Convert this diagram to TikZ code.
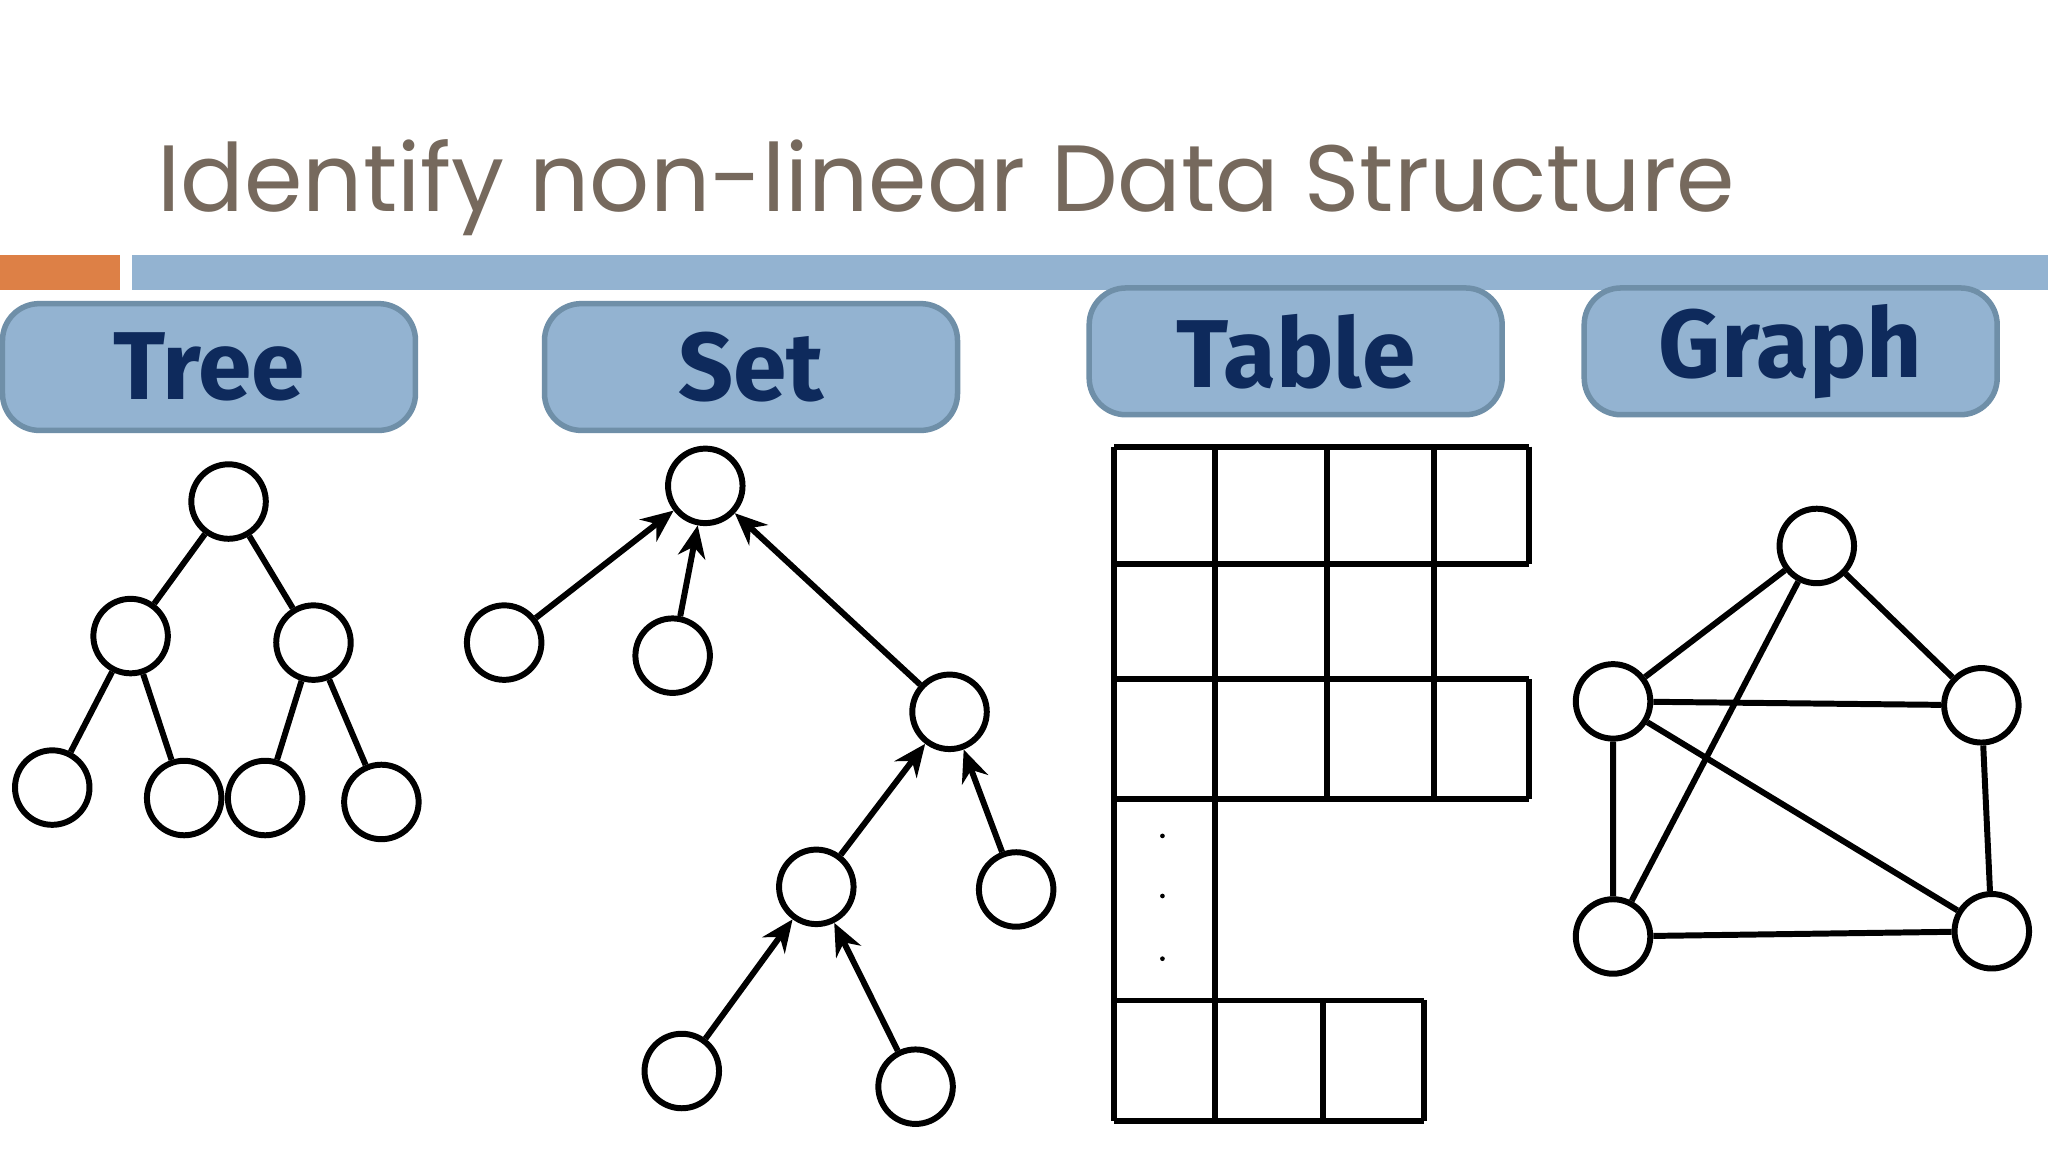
\documentclass[tikz,border=0pt]{standalone}
\usepackage{fontspec}
\setmainfont{Poppins}
\newfontfamily\boxfont{Fira Sans}
\usetikzlibrary{arrows.meta}
\definecolor{titlec}{HTML}{76695D}
\definecolor{barblue}{HTML}{93B3D1}
\definecolor{barorange}{HTML}{DD8046}
\definecolor{navy}{HTML}{0E2A5C}
\definecolor{boxborder}{HTML}{6F8FA8}
\tikzset{
 hdr/.style={draw=boxborder,line width=1.2pt,fill=barblue,rounded corners=8pt,minimum width=3.16cm,minimum height=0.97cm,font=\boxfont\bfseries\fontsize{21}{24}\selectfont,text=navy},
 nd/.style={circle,draw,line width=1.3pt,minimum size=0.57cm,inner sep=0pt},
 ln/.style={line width=1.3pt},
 ar/.style={line width=1.3pt,-{Stealth[length=7pt,width=6pt]}}
}
\begin{document}
\begin{tikzpicture}[x=0.01cm,y=-0.01cm]
\useasboundingbox (0,0) rectangle (1568,882);
\fill[white] (0,0) rectangle (1568,882);
\node[anchor=base west,inner sep=0pt,text=titlec,font=\fontsize{20.5}{24}\selectfont] (title) at (120,162) {Identify non-linear Data Structure};
\fill[barorange] (0,195) rectangle (92,222);
\fill[barblue] (101,195) rectangle (1568,222);
\node[hdr] (h1) at (160,281) {Tree};
\node[hdr] (h2) at (575,281) {Set};
\node[hdr] (h3) at (992,269) {Table};
\node[hdr] (h4) at (1371,269) {Graph};
% Tree
\node[nd] (t0) at (175,384) {};
\node[nd] (t1) at (100,487) {};
\node[nd] (t2) at (240,492) {};
\node[nd] (t3) at (40,603) {};
\node[nd] (t4) at (141,611) {};
\node[nd] (t5) at (203,611) {};
\node[nd] (t6) at (292,614) {};
\draw[ln] (t0)--(t1) (t0)--(t2) (t1)--(t3) (t1)--(t4) (t2)--(t5) (t2)--(t6);
% Set
\node[nd] (s0) at (540,372) {};
\node[nd] (s1) at (386,492) {};
\node[nd] (s2) at (515,502) {};
\node[nd] (s3) at (727,545) {};
\node[nd] (s4) at (778,681) {};
\node[nd] (s5) at (625,679) {};
\node[nd] (s6) at (522,820) {};
\node[nd] (s7) at (701,832) {};
\draw[ar] (s1)--(s0); \draw[ar] (s2)--(s0); \draw[ar] (s3)--(s0);
\draw[ar] (s5)--(s3); \draw[ar] (s4)--(s3);
\draw[ar] (s6)--(s5); \draw[ar] (s7)--(s5);
% Table
\draw[ln] (853,342)--(1171,342) (853,432)--(1171,432) (853,520)--(1171,520) (853,612)--(1171,612);
\draw[ln] (853,342)--(853,858) (930,342)--(930,858) (1016,342)--(1016,612) (1098,342)--(1098,612);
\draw[ln] (1171,342)--(1171,432) (1171,520)--(1171,612);
\draw[ln] (853,766)--(1090,766) (853,858)--(1090,858) (1013,766)--(1013,858) (1090,766)--(1090,858);
\foreach \yy in {640,686,734} \fill (890,\yy) circle (1.8);
% Graph
\node[nd] (g0) at (1391,418) {};
\node[nd] (g1) at (1235,537) {};
\node[nd] (g2) at (1517,540) {};
\node[nd] (g3) at (1235,717) {};
\node[nd] (g4) at (1525,713) {};
\draw[ln] (g0)--(g1) (g0)--(g2) (g1)--(g2) (g0)--(g3) (g1)--(g4) (g1)--(g3) (g2)--(g4) (g3)--(g4);
\end{tikzpicture}
\end{document}
